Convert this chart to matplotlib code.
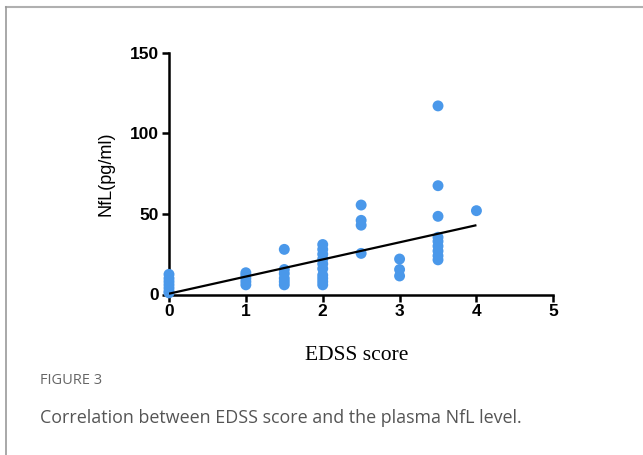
import matplotlib
matplotlib.use("Agg")
import matplotlib.pyplot as plt
from matplotlib.lines import Line2D

# Data (EDSS score vs plasma NfL)
edss_0 = [0, 0, 0, 0, 0, 0, 0]
nfl_0 = [1, 2, 4, 6, 8, 10, 12.5]
edss_1 = [1, 1, 1, 1, 1]
nfl_1 = [6, 8, 10, 12, 13.5]
edss_15 = [1.5, 1.5, 1.5, 1.5, 1.5, 1.5]
nfl_15 = [6, 8, 10, 13, 15.5, 28]
edss_2 = [2] * 10
nfl_2 = [6, 8, 10, 12, 16, 19, 22, 25, 28, 31]
edss_25 = [2.5, 2.5, 2.5, 2.5]
nfl_25 = [25.5, 43, 46, 55.5]
edss_3 = [3, 3, 3]
nfl_3 = [11.5, 15.5, 22]
edss_35 = [3.5] * 9
nfl_35 = [21.5, 24, 27, 30, 33, 35.5, 48.5, 67.5, 117]
edss_4 = [4]
nfl_4 = [52]

fit_x = [0, 4]
fit_y = [0.5, 43]

x_ticks = [0, 1, 2, 3, 4, 5]
y_ticks = [0, 50, 100, 150]

edss = edss_0 + edss_1 + edss_15 + edss_2 + edss_25 + edss_3 + edss_35 + edss_4
nfl = nfl_0 + nfl_1 + nfl_15 + nfl_2 + nfl_25 + nfl_3 + nfl_35 + nfl_4

W, H = 643, 455
fig = plt.figure(figsize=(W / 100, H / 100), dpi=100)
fig.patch.set_facecolor("white")

ax = fig.add_axes([169 / W, 1 - 294.5 / H, (553.3 - 169) / W, (294.5 - 52.7) / H])
ax.scatter(edss, nfl, s=62, color="#4a98ea", edgecolors="none", zorder=3, clip_on=False)
ax.plot(fit_x, fit_y, color="black", lw=1.6, zorder=4, solid_capstyle="butt")

ax.set_xlim(0, 5)
ax.set_ylim(0, 150)
ax.set_xticks(x_ticks)
ax.set_yticks(y_ticks)
for s in ["top", "right"]:
    ax.spines[s].set_visible(False)
for s in ["left", "bottom"]:
    ax.spines[s].set_linewidth(1.8)
    ax.spines[s].set_capstyle("projecting")
ax.tick_params(axis="both", direction="out", length=5, width=1.8, pad=2,
               labelsize=12.5)
for lab in ax.get_xticklabels() + ax.get_yticklabels():
    lab.set_fontfamily("Liberation Sans")
    lab.set_fontweight("bold")

ax.set_ylabel("NfL(pg/ml)", fontfamily="Liberation Sans", fontsize=13, labelpad=11)
fig.text(357 / W, 1 - 356 / H, "EDSS score", fontfamily="Liberation Serif",
         fontsize=15.5, ha="center", va="center")

fig.text(40 / W, 1 - 381 / H, "FIGURE 3", fontfamily="Open Sans", fontsize=10.5,
         color="#666666", ha="left", va="center")
fig.text(40 / W, 1 - 418 / H, "Correlation between EDSS score and the plasma NfL level.",
         fontfamily="Open Sans", fontsize=12.9, color="#555555", ha="left", va="center")

# page frame
fig.add_artist(Line2D([6 / W, 1], [1 - 7 / H, 1 - 7 / H], transform=fig.transFigure,
                      color="#b0b0b0", lw=1.5))
fig.add_artist(Line2D([6 / W, 6 / W], [0, 1 - 7 / H], transform=fig.transFigure,
                      color="#999999", lw=1.2))

fig.savefig("out.png", dpi=100)
